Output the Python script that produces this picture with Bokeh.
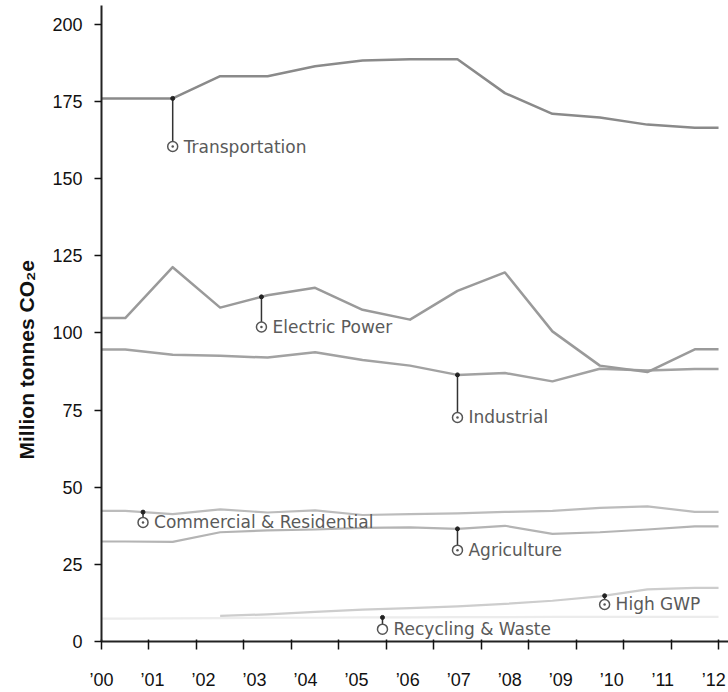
import math
import numpy as np
from bokeh.plotting import figure
from bokeh.models import FixedTicker, Range1d, Title, ColumnDataSource
from bokeh.core.properties import value
from bokeh.embed import file_html
from bokeh.resources import INLINE

# ---------------- data ----------------
years = list(range(2000, 2013))
tick_labels = ["’00", "’01", "’02", "’03", "’04", "’05", "’06",
               "’07", "’08", "’09", "’10", "’11", "’12"]
y_ticks = [0, 25, 50, 75, 100, 125, 150, 175, 200]

transportation = [176.0, 176.0, 183.2, 183.2, 186.4, 188.3, 188.7, 188.7, 177.7, 171.0, 169.8, 167.5, 166.5]
electric_power = [104.8, 121.3, 108.2, 112.2, 114.6, 107.5, 104.3, 113.6, 119.6, 100.5, 89.4, 87.3, 94.7]
industrial = [94.6, 92.9, 92.6, 92.0, 93.7, 91.2, 89.4, 86.4, 87.0, 84.3, 88.4, 87.8, 88.3]
commercial_residential = [42.3, 41.3, 42.8, 41.8, 42.5, 41.0, 41.3, 41.5, 42.0, 42.3, 43.3, 43.8, 42.0]
agriculture = [32.4, 32.3, 35.4, 36.0, 36.3, 36.8, 37.0, 36.5, 37.5, 34.9, 35.4, 36.3, 37.3]
high_gwp = [None, None, 8.3, 8.8, 9.6, 10.3, 10.8, 11.4, 12.2, 13.2, 14.6, 16.9, 17.4]
recycling_waste = [7.4, 7.5, 7.6, 7.7, 7.7, 7.8, 7.8, 7.9, 7.9, 8.0, 8.0, 8.0, 8.0]

series_names = ["Transportation", "Electric Power", "Industrial",
                "Commercial & Residential", "Agriculture", "High GWP",
                "Recycling & Waste"]
series_values = [transportation, electric_power, industrial,
                 commercial_residential, agriculture, high_gwp, recycling_waste]

# label callouts: position along the year index, and value where the marker sits
callout_pos = [1.0, 2.87, 7.0, 0.375, 7.0, 10.1, 5.42]
callout_val = [160.4, 101.9, 72.6, 38.6, 29.6, 12.0, 4.0]

# ---------------- styles ----------------
line_colors = ["#8a8a8a", "#9a9a9a", "#a2a2a2", "#bcbcbc", "#b4b4b4", "#cdcdcd", "#ececec"]
line_widths = [2.5, 2.5, 2.5, 2.2, 2.2, 2.2, 2.2]
marker_types = ["circle_dot"] * 6 + ["circle"]

p = figure(width=728, height=692, output_backend="svg", toolbar_location=None,
           x_range=Range1d(0, 13.21), y_range=Range1d(0, 206.1),
           min_border_left=100, min_border_right=0, min_border_top=5,
           min_border_bottom=41)
p.outline_line_color = None
p.grid.visible = False
p.background_fill_color = "white"
p.border_fill_color = "white"

n = len(years)
label_positions = [k * 12.9 / (n - 1) for k in range(n)]
xa = p.xaxis[0]
xa.ticker = FixedTicker(ticks=label_positions, minor_ticks=list(range(n + 1)))
xa.major_label_overrides = {pos: lab for pos, lab in zip(label_positions, tick_labels)}
xa.major_tick_out = 0
xa.major_tick_in = 0
xa.minor_tick_out = 8
xa.minor_tick_in = 2
xa.minor_tick_line_color = "#111111"
xa.minor_tick_line_width = 1.5
xa.axis_line_color = "#222222"
xa.axis_line_width = 2
xa.major_label_standoff = 20
xa.major_label_text_font = "Liberation Sans"
xa.major_label_text_font_size = "18px"
xa.major_label_text_color = "#111111"

ya = p.yaxis[0]
ya.ticker = FixedTicker(ticks=y_ticks)
ya.major_tick_out = 7
ya.major_tick_in = 0
ya.minor_tick_out = 0
ya.minor_tick_in = 0
ya.major_tick_line_color = "#111111"
ya.major_tick_line_width = 1.5
ya.axis_line_color = "#222222"
ya.axis_line_width = 2
ya.major_label_standoff = 12
ya.major_label_text_font = "Liberation Sans"
ya.major_label_text_font_size = "18px"
ya.major_label_text_color = "#111111"

ytitle = Title(text="Million tonnes CO₂e", align="left", offset=182,
               standoff=24, text_font="Liberation Sans", text_font_style="bold",
               text_font_size="21px", text_color="#111111")
p.add_layout(ytitle, "left")

# draw lines (back to front: lightest first)
order = [6, 5, 4, 3, 2, 1, 0]
line_xy = {}
for i in order:
    vals = np.array([np.nan if v is None else v for v in series_values[i]], dtype=float)
    xs = np.arange(n) + 0.5
    mask = ~np.isnan(vals)
    xs_v = xs[mask]
    ys_v = vals[mask]
    # extend flat to the axis edges where the series covers the edge years
    if mask[0]:
        xs_v = np.concatenate([[0.0], xs_v])
        ys_v = np.concatenate([[ys_v[0]], ys_v])
    if mask[-1]:
        xs_v = np.concatenate([xs_v, [float(n)]])
        ys_v = np.concatenate([ys_v, [ys_v[-1]]])
    line_xy[i] = (xs_v, ys_v)
    p.line(xs_v, ys_v, line_color=line_colors[i], line_width=line_widths[i],
           line_join="round")

# callouts
stem_x, stem_top, stem_bot, names, mk = [], [], [], [], []
for i in range(len(series_names)):
    xs_v, ys_v = line_xy[i]
    sx = callout_pos[i] + 0.5
    stem_x.append(sx)
    stem_top.append(float(np.interp(sx, xs_v, ys_v)))
    stem_bot.append(callout_val[i])
    names.append(series_names[i])
    mk.append(marker_types[i])

src = ColumnDataSource(dict(x=stem_x, top=stem_top, bot=stem_bot, name=names, marker=mk))
p.segment(x0="x", y0="top", x1="x", y1="bot", source=src,
          line_color="#333333", line_width=1.5)
p.scatter(x="x", y="top", source=src, size=4, marker="circle",
          fill_color="#222222", line_color="#222222")
p.scatter(x="x", y="bot", source=src, size=10, marker="marker",
          fill_color="white", line_color="#555555", line_width=1.5)
p.text(x="x", y="bot", text="name", source=src, x_offset=11,
       text_baseline="middle", text_align="left",
       text_font=value("DejaVu Sans"), text_font_size="17px",
       text_color="#5a5a5a")

open("out.html", "w").write(file_html(p, INLINE))
